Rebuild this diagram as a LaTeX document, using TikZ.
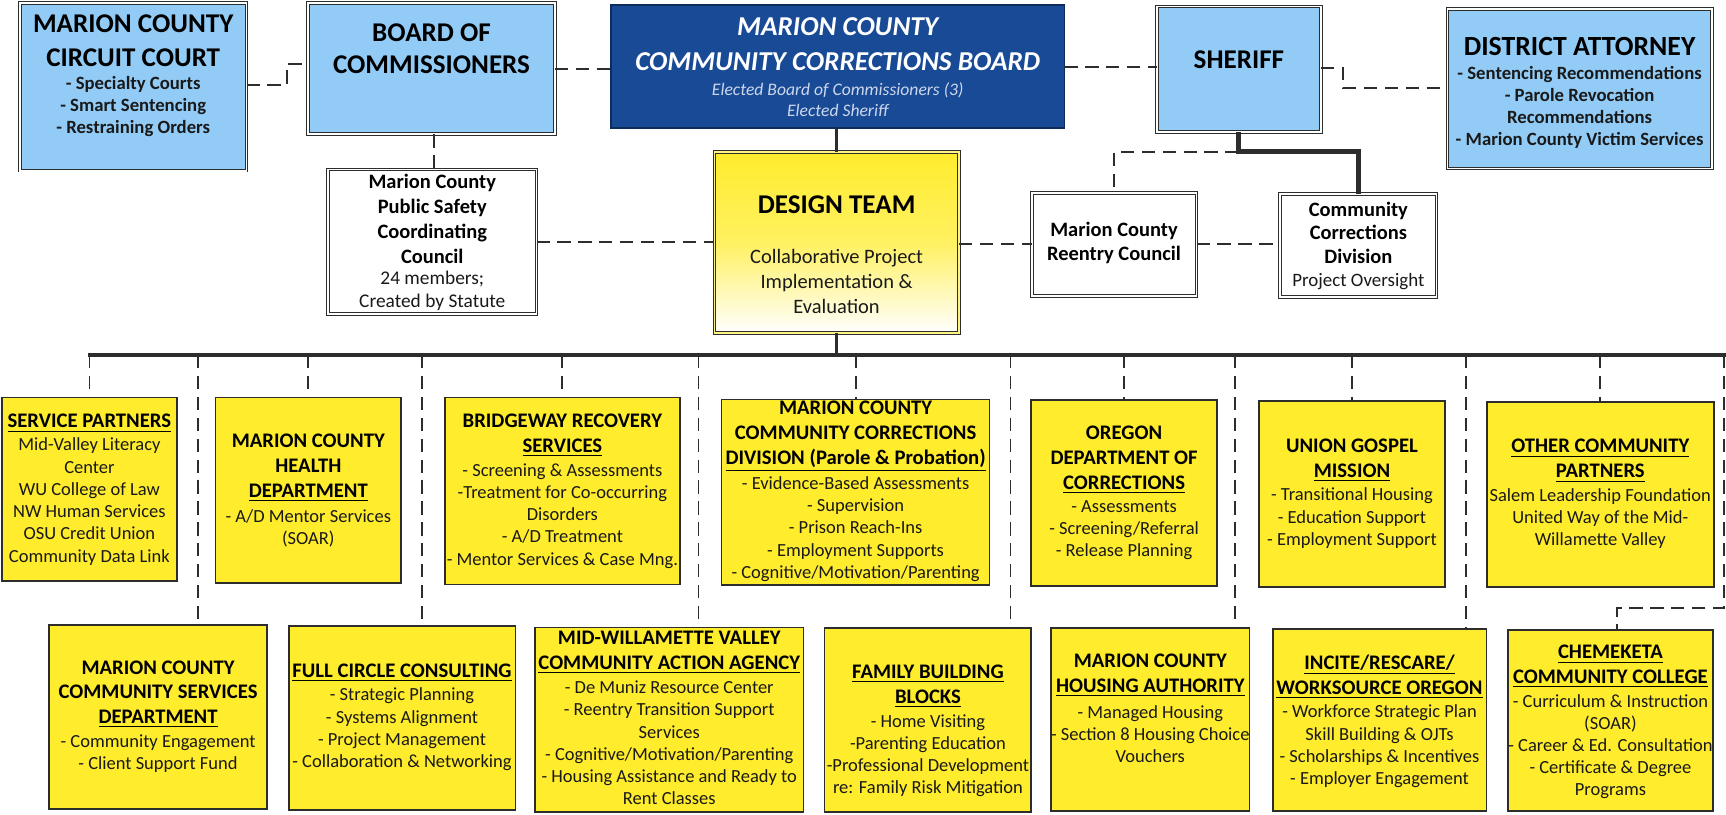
\documentclass[tikz,border=0pt]{standalone}
\usepackage{fontspec}
\setmainfont{Carlito}
\usetikzlibrary{fit}
\definecolor{lblue}{RGB}{146,204,246}
\definecolor{dblue}{RGB}{24,74,150}
\definecolor{yel}{RGB}{255,236,45}
\definecolor{edge}{RGB}{45,45,45}
\definecolor{subw}{RGB}{205,215,235}
\begin{document}
\begin{tikzpicture}[x=0.5pt,y=-0.5pt,
  dbl/.style={draw=edge, line width=0.45pt, double=white, double distance=0.8pt},
  bluebox/.style={dbl, fill=lblue, inner sep=0pt, outer sep=0pt},
  whitebox/.style={dbl, fill=white, inner sep=0pt, outer sep=0pt},
  ybox/.style={draw=edge, line width=0.8pt, fill=yel, inner sep=0pt, outer sep=0pt},
  navybox/.style={draw=dblue!60!black, line width=0.8pt, fill=dblue, inner sep=0pt, outer sep=0pt},
  dtbox/.style={dbl, double=yel!60!white, top color=yel, bottom color=white, middle color=yel!75!white, inner sep=0pt, outer sep=0pt},
  txt/.style={inner sep=0pt, align=center, text=black},
  big/.style={txt, font=\fontsize{12.3}{15}\selectfont\bfseries},
  sbold/.style={txt, font=\fontsize{8.5}{10}\selectfont\bfseries, text=black!90},
  ttl/.style={txt, font=\fontsize{9.4}{11.3}\selectfont\bfseries},
  bdy/.style={txt, font=\fontsize{8.4}{10.1}\selectfont, text=black!90},
  dsh/.style={draw=edge, line width=0.85pt, dash pattern=on 6pt off 3.5pt},
  heavy/.style={draw=edge, line width=1.8pt},
]
\useasboundingbox (0,0) rectangle (1568,739.5);

% ---------- top row ----------
\node[bluebox, fit={(18,3) (224,155)}] (cc) {};
\node[big] (cct) at (121,37) {MARION COUNTY\\CIRCUIT COURT};
\node[sbold] (ccb) at (121,97) {- Specialty Courts\\- Smart Sentencing\\- Restraining Orders};

\node[bluebox, fit={(280,3) (504,122)}] (bc) {};
\node[txt, font=\fontsize{12.3}{14.5}\selectfont\bfseries] (bct) at (392,44.5) {BOARD OF\\COMMISSIONERS};

\node[navybox, fit={(555,4.5) (967,116.6)}] (ccbd) {};
\node[txt, text=white, font=\fontsize{12.4}{16}\selectfont\bfseries\itshape] (ccbdt) at (761,40) {MARION COUNTY\\COMMUNITY CORRECTIONS BOARD};
\node[txt, text=subw, font=\fontsize{8}{9.5}\selectfont\itshape] (ccbds) at (761,90.5) {Elected Board of Commissioners (3)\\Elected Sheriff};

\node[bluebox, fit={(1051,6) (1200,120)}] (sh) {};
\node[big] (sht) at (1125.5,54.5) {SHERIFF};

\node[bluebox, fit={(1315,8) (1555,153)}] (da) {};
\node[txt, font=\fontsize{12.6}{15}\selectfont\bfseries] (dat) at (1435,42.4) {DISTRICT ATTORNEY};
\node[sbold] (dab) at (1435,97.7) {- Sentencing Recommendations\\- Parole Revocation\\Recommendations\\- Marion County Victim Services};

% ---------- middle row ----------
\node[whitebox, fit={(298,154) (487.4,285)}] (ps) {};
\node[txt, font=\fontsize{9.3}{11.25}\selectfont\bfseries] (pst) at (392.7,198.9) {Marion County\\Public Safety\\Coordinating\\Council};
\node[txt, font=\fontsize{8.8}{10.5}\selectfont, text=black!90] (psb) at (392.7,264.5) {24 members;\\Created by Statute};

\node[dtbox, fit={(649,137.8) (871,302.8)}] (dt) {};
\node[big] (dtt) at (760,186) {DESIGN TEAM};
\node[txt, font=\fontsize{9.3}{11.35}\selectfont, text=black!90] (dtb) at (760,256) {Collaborative Project\\Implementation \&\\Evaluation};

\node[whitebox, fit={(937.3,175) (1087,269)}] (rc) {};
\node[txt, font=\fontsize{9.3}{10.8}\selectfont\bfseries] (rct) at (1012,220.8) {Marion County\\Reentry Council};

\node[whitebox, fit={(1163,176) (1305,269.5)}] (cd) {};
\node[txt, font=\fontsize{9.3}{10.75}\selectfont\bfseries] (cdt) at (1234,211.3) {Community\\Corrections\\Division};
\node[txt, font=\fontsize{8.6}{10}\selectfont, text=black!90] (cdb) at (1234,256) {Project Oversight};

% ---------- row 2 ----------
\node[ybox, fit={(1.5,361) (161,528)}] (sp) {};
\node[ttl] (spt) at (81.2,384.5) {\underline{SERVICE PARTNERS}};
\node[bdy] (spb) at (81.2,455.7) {Mid-Valley Literacy\\Center\\WU College of Law\\NW Human Services\\OSU Credit Union\\Community Data Link};

\node[ybox, fit={(195.8,361) (364.4,529.4)}] (hd) {};
\node[ttl] (hdt) at (280.1,425) {MARION COUNTY\\HEALTH\\\underline{DEPARTMENT}};
\node[bdy] (hdb) at (280.1,480) {- A/D Mentor Services\\(SOAR)};

\node[ybox, fit={(404,361) (617.8,531)}] (br) {};
\node[ttl] (brt) at (510.9,395.5) {BRIDGEWAY RECOVERY\\\underline{SERVICES}};
\node[bdy] (brb) at (510.9,468.6) {- Screening \& Assessments\\-Treatment for Co-occurring\\Disorders\\- A/D Treatment\\- Mentor Services \& Case Mng.};

\node[ybox, fit={(655.5,363) (899,531.5)}] (cv) {};
\node[ttl] (cvt) at (777.3,396.7) {MARION COUNTY\\COMMUNITY CORRECTIONS\\\underline{DIVISION (Parole \& Probation)}};
\node[bdy] (cvb) at (777.3,480.7) {- Evidence-Based Assessments\\- Supervision\\- Prison Reach-Ins\\- Employment Supports\\- Cognitive/Motivation/Parenting};

\node[ybox, fit={(936.8,363.4) (1105.5,532.4)}] (od) {};
\node[ttl] (odt) at (1021.2,417.7) {OREGON\\DEPARTMENT OF\\\underline{CORRECTIONS}};
\node[bdy] (odb) at (1021.2,481.8) {- Assessments\\- Screening/Referral\\- Release Planning};

\node[ybox, fit={(1143.4,364) (1313,533)}] (ug) {};
\node[ttl] (ugt) at (1228.2,418.2) {UNION GOSPEL\\\underline{MISSION}};
\node[bdy] (ugb) at (1228.2,470.8) {- Transitional Housing\\- Education Support\\- Employment Support};

\node[ybox, fit={(1350.6,365) (1557,533.6)}] (oc) {};
\node[ttl] (oct) at (1453.8,418.7) {\underline{OTHER COMMUNITY}\\\underline{PARTNERS}};
\node[bdy] (ocb) at (1453.8,470.9) {Salem Leadership Foundation\\United Way of the Mid-\\Willamette Valley};

% ---------- row 3 ----------
\node[ybox, fit={(44.5,568) (242.7,735)}] (cs) {};
\node[ttl] (cst) at (143.6,630.8) {MARION COUNTY\\COMMUNITY SERVICES\\\underline{DEPARTMENT}};
\node[bdy] (csb) at (143.6,684.5) {- Community Engagement\\- Client Support Fund};

\node[ybox, fit={(262.2,568.7) (468.3,735.9)}] (fc) {};
\node[ttl] (fct) at (365.2,611) {\underline{FULL CIRCLE CONSULTING}};
\node[bdy] (fcb) at (365.2,662.6) {- Strategic Planning\\- Systems Alignment\\- Project Management\\- Collaboration \& Networking};

\node[ybox, fit={(486,570) (730,737.4)}] (mw) {};
\node[ttl] (mwt) at (608,592.7) {MID-WILLAMETTE VALLEY\\\underline{COMMUNITY ACTION AGENCY}};
\node[bdy] (mwb) at (608,674.9) {- De Muniz Resource Center\\- Reentry Transition Support\\Services\\- Cognitive/Motivation/Parenting\\- Housing Assistance and Ready to\\Rent Classes};

\node[ybox, fit={(749,570.8) (936.9,737.4)}] (fb) {};
\node[ttl] (fbt) at (843,623.7) {\underline{FAMILY BUILDING}\\\underline{BLOCKS}};
\node[bdy] (fbb) at (843,686.4) {- Home Visiting\\-Parenting Education\\-Professional Development\\re: Family Risk Mitigation};

\node[ybox, fit={(955,570.8) (1135,737)}] (ha) {};
\node[ttl] (hat) at (1045,613.5) {MARION COUNTY\\\underline{HOUSING AUTHORITY}};
\node[bdy] (hab) at (1045,667) {- Managed Housing\\- Section 8 Housing Choice\\Vouchers};

\node[ybox, fit={(1156.2,571.7) (1350.3,737)}] (in) {};
\node[ttl] (int) at (1253.2,615) {\underline{INCITE/RESCARE/}\\\underline{WORKSOURCE OREGON}};
\node[bdy] (inb) at (1253.2,678) {- Workforce Strategic Plan\\Skill Building \& OJTs\\- Scholarships \& Incentives\\- Employer Engagement};

\node[ybox, fit={(1369.7,572.4) (1556.4,737)}] (ch) {};
\node[ttl] (cht) at (1463,605.7) {\underline{CHEMEKETA}\\\underline{COMMUNITY COLLEGE}};
\node[bdy] (chb) at (1463,678.3) {- Curriculum \& Instruction\\(SOAR)\\- Career \& Ed. Consultation\\- Certificate \& Degree\\Programs};

% ---------- connectors ----------
\coordinate (k0) at (224,77);
\coordinate (k1) at (261,58);
\draw[dsh] (k0) -- (k0 -| k1) -- (k1) -- (k1 -| bc.west);
\draw[dsh] (bc.east) -- (bc.east -| ccbd.west);
\draw[dsh] (ccbd.east) -- (ccbd.east -| sh.west);
\coordinate (k2) at (1220,62);
\coordinate (k3) at (1220,80);
\draw[dsh] (sh.east |- k2) -- (k2) -- (k3) -- (k3 -| da.west);
\coordinate (bv) at (394,0);
\draw[dsh] (bv |- bc.south) -- (bv |- ps.north);
\coordinate (k4) at (0,219.5);
\draw[dsh] (ps.east |- k4) -- (dt.west |- k4);
\draw[heavy, line width=1.5pt] (ccbd.south -| dt.north) -- (dt.north);
\draw[dsh] (dt.east |- rc.west) -- (rc.west);
\draw[dsh] (rc.east) -- (rc.east -| cd.west);
\coordinate (s1) at (1125.2,137.8);
\draw[heavy, line width=2pt] (s1 |- sh.south) -- (s1) -- (s1 -| cd.north) -- (cd.north);
\draw[dsh] (s1) -- (s1 -| rc.north) -- (rc.north);

% bar
\coordinate (barL) at (80,322.5);
\coordinate (barR) at (1568,322.5);
\draw[heavy, line width=1.5pt] (dt.south) -- (dt.south |- barL);
\draw[heavy] (barL) -- (barR);
\foreach \b in {sp,hd,br,cv,od,ug,oc}{
  \draw[dsh] (\b.north |- barL) -- (\b.north);
}
\coordinate (c1) at (180,322.5);
\coordinate (c2) at (383,322.5);
\coordinate (c3) at (634.5,322.5);
\coordinate (c4) at (918,322.5);
\coordinate (c5) at (1122,322.5);
\coordinate (c6) at (1332,322.5);
\draw[dsh] (c1) -- (c1 |- cs.north);
\draw[dsh] (c2) -- (c2 |- fc.north);
\draw[dsh] (c3) -- (c3 |- mw.north);
\draw[dsh] (c4) -- (c4 |- fb.north);
\draw[dsh] (c5) -- (c5 |- ha.north);
\draw[dsh] (c6) -- (c6 |- in.north);
\coordinate (c7) at (1566,322.5);
\coordinate (c7b) at (1566,552.7);
\coordinate (c7c) at (1468.7,552.7);
\draw[dsh] (c7) -- (c7b) -- (c7c) -- (c7c |- ch.north);
\end{tikzpicture}
\end{document}
